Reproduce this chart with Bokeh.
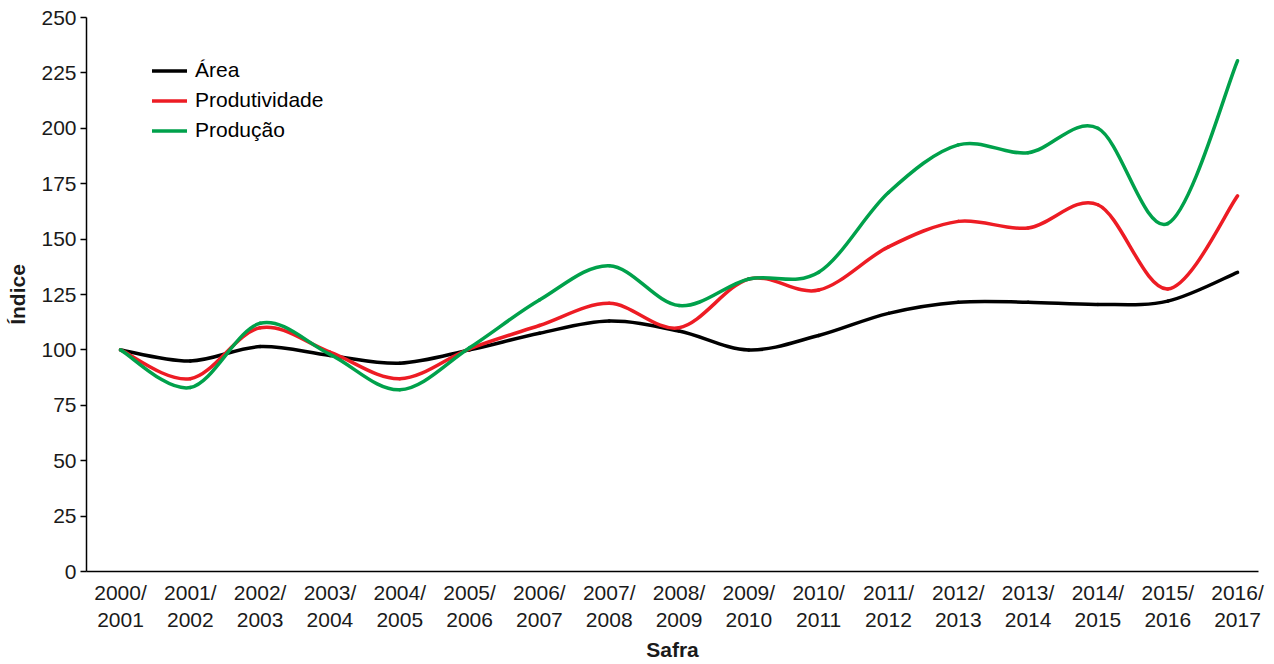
from bokeh.plotting import figure
from bokeh.models import FixedTicker, Legend, LegendItem, Range1d
from bokeh.embed import file_html
from bokeh.resources import INLINE

safras = ["2000/2001", "2001/2002", "2002/2003", "2003/2004", "2004/2005",
          "2005/2006", "2006/2007", "2007/2008", "2008/2009", "2009/2010",
          "2010/2011", "2011/2012", "2012/2013", "2013/2014", "2014/2015",
          "2015/2016", "2016/2017"]

area = [100, 95, 101.5, 97.5, 94, 100, 107.5, 113, 108.5, 100,
        106.5, 116.5, 121.5, 121.5, 120.5, 122, 135]
produtividade = [100, 87, 110, 99, 87, 100.5, 111, 121, 110, 132,
                 127, 146.5, 158, 155, 165.5, 127.5, 169.5]
producao = [100, 83, 112, 98, 82, 101, 122.5, 138, 120, 132,
            135, 171, 192.5, 189, 200, 157, 230.5]

y_ticks = [0, 25, 50, 75, 100, 125, 150, 175, 200, 225, 250]

FONT = "Liberation Sans"
FONT_SIZE = "21px"


def smooth_segments(values):
    """Catmull-Rom control points for bezier segments between data points."""
    xs = list(range(len(values)))
    n = len(values)
    seg = {k: [] for k in ("x0", "y0", "x1", "y1", "cx0", "cy0", "cx1", "cy1")}
    for i in range(n - 1):
        p0 = max(i - 1, 0)
        p3 = min(i + 2, n - 1)
        seg["x0"].append(xs[i])
        seg["y0"].append(values[i])
        seg["x1"].append(xs[i + 1])
        seg["y1"].append(values[i + 1])
        seg["cx0"].append(xs[i] + (xs[i + 1] - xs[p0]) / 6)
        seg["cy0"].append(values[i] + (values[i + 1] - values[p0]) / 6)
        seg["cx1"].append(xs[i + 1] - (xs[p3] - xs[i]) / 6)
        seg["cy1"].append(values[i + 1] - (values[p3] - values[i]) / 6)
    return seg


p = figure(width=1274, height=664, output_backend="svg", toolbar_location=None,
           x_range=Range1d(-0.487, 16.3), y_range=Range1d(0, 250),
           min_border_left=86, min_border_top=17, min_border_right=16,
           min_border_bottom=60)

p.grid.visible = False
p.outline_line_color = None

series = [("Área", area, "#000000"),
          ("Produtividade", produtividade, "#ED1C24"),
          ("Produção", producao, "#00A14B")]

items = []
for name, vals, color in series:
    r = p.bezier(line_width=3.5, line_color=color, line_cap="round",
                 **smooth_segments(vals))
    items.append(LegendItem(label=name, renderers=[r]))

legend = Legend(items=items, location=(66, 429), border_line_color=None,
                background_fill_alpha=0, padding=0, margin=0, spacing=6,
                glyph_width=35, glyph_height=21, label_height=21,
                label_standoff=8, label_text_font=FONT,
                label_text_font_size=FONT_SIZE, label_text_color="#000000")
p.add_layout(legend)

p.xaxis.ticker = FixedTicker(ticks=list(range(len(safras))))
p.xaxis.major_label_overrides = {i: s.replace("/", "/\n") for i, s in enumerate(safras)}
p.xaxis.major_tick_line_color = None
p.xaxis.minor_tick_line_color = None
p.xaxis.major_label_standoff = 3
p.xaxis.axis_label = "Safra"
p.xaxis.axis_label_standoff = 4

p.yaxis.ticker = FixedTicker(ticks=y_ticks)
p.yaxis.major_tick_out = 6
p.yaxis.major_tick_in = 0
p.yaxis.minor_tick_line_color = None
p.yaxis.major_label_standoff = 4
p.yaxis.axis_label = "Índice"
p.yaxis.axis_label_standoff = 9

for ax in (p.xaxis, p.yaxis):
    ax.axis_line_color = "#000000"
    ax.axis_line_width = 1.5
    ax.major_tick_line_width = 1.5
    ax.major_label_text_font = FONT
    ax.major_label_text_font_size = FONT_SIZE
    ax.major_label_text_color = "#1a1a1a"
    ax.axis_label_text_font = FONT
    ax.axis_label_text_font_size = FONT_SIZE
    ax.axis_label_text_font_style = "bold"
    ax.axis_label_text_color = "#1a1a1a"

open("out.html", "w").write(file_html(p, INLINE))
